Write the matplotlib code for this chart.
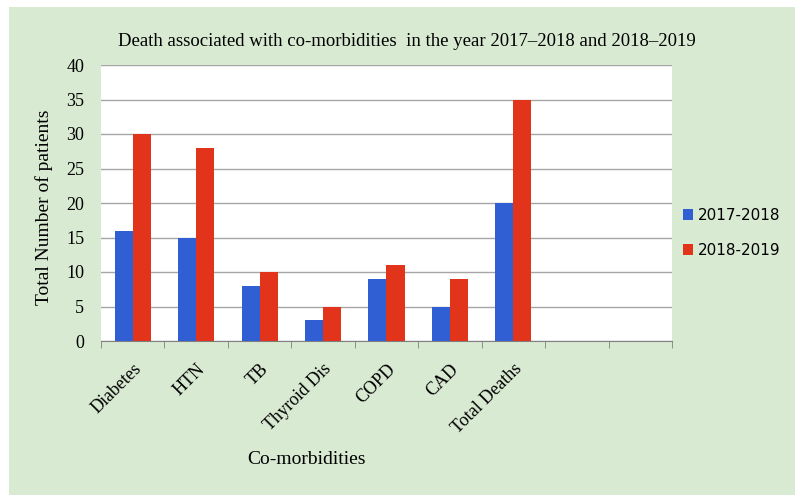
import numpy as np
import matplotlib.pyplot as plt
from matplotlib.patches import Rectangle

categories = ["Diabetes", "HTN", "TB", "Thyroid Dis", "COPD", "CAD", "Total Deaths", "", ""]
deaths_2017_2018 = [16, 15, 8, 3, 9, 5, 20, np.nan, np.nan]
deaths_2018_2019 = [30, 28, 10, 5, 11, 9, 35, np.nan, np.nan]
series_labels = ["2017-2018", "2018-2019"]

BLUE = "#2F5FD3"
RED = "#E2341B"
GREEN_BG = "#D9EAD3"
SERIF = ["Liberation Serif", "DejaVu Serif"]

fig = plt.figure(figsize=(7.95, 4.95), dpi=100, facecolor="white")
# green panel with a thin white margin on the top and left
fig.patches.append(Rectangle((9 / 795, 0), 1, (495 - 7) / 495, transform=fig.transFigure,
                             facecolor=GREEN_BG, edgecolor="none", zorder=-1))

ax = fig.add_axes([101 / 795, 154 / 495, 571 / 795, 276 / 495])
ax.set_facecolor("white")

x = np.arange(len(categories))
w = 0.285
ax.bar(x - w / 2, deaths_2017_2018, w, color=BLUE, label=series_labels[0], zorder=3)
ax.bar(x + w / 2, deaths_2018_2019, w, color=RED, label=series_labels[1], zorder=3)

ax.set_xlim(-0.5, len(categories) - 0.5)
ax.set_ylim(0, 40)
ax.set_yticks(np.arange(0, 41, 5))
ax.yaxis.grid(True, color="#A6A6A6", linewidth=1.0, zorder=0)
ax.tick_params(axis="y", length=0, labelsize=13, pad=12)
for lab in ax.get_yticklabels():
    lab.set_fontfamily(SERIF)

# category labels at the centres, tick marks on the boundaries
ax.set_xticks(x)
ax.set_xticklabels(categories, rotation=45, ha="right", rotation_mode="anchor",
                   fontsize=13, family=SERIF)
ax.tick_params(axis="x", which="major", length=0, pad=14)
ax.set_xticks(np.arange(-0.5, len(categories)), minor=True)
ax.tick_params(axis="x", which="minor", length=5, color="#808080")

for side in ["top", "right", "left"]:
    ax.spines[side].set_visible(False)
ax.spines["bottom"].set_color("#808080")

fig.text(407 / 795, 1 - 42 / 495, "Death associated with co-morbidities  in the year 2017\u20132018 and 2018\u20132019",
         ha="center", va="center", fontsize=13.5, family=SERIF)
fig.text(44 / 795, 1 - 207 / 495, "Total Number of patients", rotation=90,
         ha="center", va="center", fontsize=14, family=SERIF)
fig.text(307 / 795, 1 - 459 / 495, "Co-morbidities", ha="center", va="center",
         fontsize=14, family=SERIF)

fig.legend(loc="center left", bbox_to_anchor=(669 / 795, 1 - 233 / 495), frameon=False,
           handlelength=0.7, handleheight=0.7, handletextpad=0.3,
           labelspacing=1.3, prop={"family": "DejaVu Sans", "size": 11})

fig.savefig("out.png", dpi=100, facecolor=fig.get_facecolor())
